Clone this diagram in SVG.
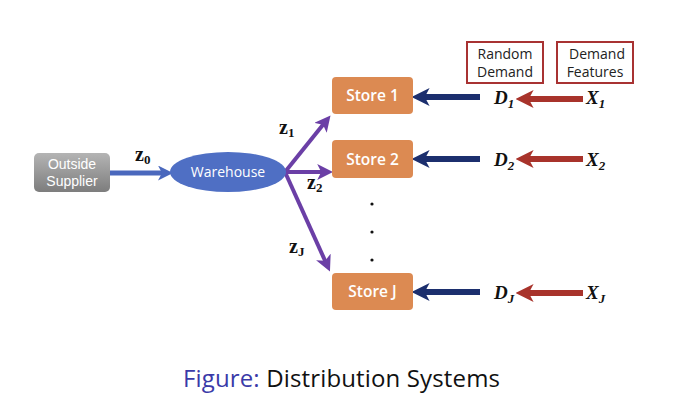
<svg xmlns="http://www.w3.org/2000/svg" width="680" height="405" viewBox="0 0 680 405">
<style>
.lbl{font-family:"Liberation Sans",Arial,sans-serif;font-size:14px;fill:#fff;text-anchor:middle}
.wtxt{font-family:"Open Sans","Liberation Sans",sans-serif;font-size:14px;fill:#fff;text-anchor:middle}
.store{fill:#dc8a52}
.stxt{font-family:"Open Sans","Liberation Sans",sans-serif;font-size:15.5px;font-weight:600;fill:#fff;text-anchor:middle}
.math{font-family:"Liberation Serif",serif;font-weight:bold;font-style:italic;font-size:19px;fill:#111}
.mz{font-family:"Liberation Serif",serif;font-weight:bold;font-size:20px;fill:#111}
.sub{font-size:13px}
.btxt{font-family:"Open Sans","Liberation Sans",sans-serif;font-size:14px;fill:#222;text-anchor:middle}
.box{fill:#fff;stroke:#a83232;stroke-width:2}
.pur{stroke:#6b3fa6;stroke-width:4;fill:none}
.nav{stroke:#1c2f6e;stroke-width:6;fill:none}
.red{stroke:#a8332b;stroke-width:6;fill:none}
</style>
<defs>
<linearGradient id="gs" x1="0" y1="0" x2="0" y2="1">
<stop offset="0" stop-color="#b4b4b4"/><stop offset="1" stop-color="#7d7d7d"/>
</linearGradient>
<marker id="ap" markerWidth="4" markerHeight="4" refX="2.2" refY="2" orient="auto" markerUnits="strokeWidth" viewBox="0 0 4 4"><path d="M0,0 L4,2 L0,4 L1,2 Z" fill="#6b3fa6"/></marker>
<marker id="ab" markerWidth="3" markerHeight="3" refX="1.6" refY="1.5" orient="auto" markerUnits="strokeWidth" viewBox="0 0 3 3"><path d="M0,0 L3,1.5 L0,3 L0.8,1.5 Z" fill="#4a68bd"/></marker>
<marker id="an" markerWidth="3" markerHeight="3" refX="1.6" refY="1.5" orient="auto" markerUnits="strokeWidth" viewBox="0 0 3 3"><path d="M0,0 L3,1.5 L0,3 L0.8,1.5 Z" fill="#1c2f6e"/></marker>
<marker id="ar" markerWidth="3" markerHeight="3" refX="1.6" refY="1.5" orient="auto" markerUnits="strokeWidth" viewBox="0 0 3 3"><path d="M0,0 L3,1.5 L0,3 L0.8,1.5 Z" fill="#a8332b"/></marker>
</defs>
<rect width="680" height="405" fill="#fff"/>

<g id="connectors">
<line x1="110" y1="173" x2="166" y2="173" stroke="#4a68bd" stroke-width="5" marker-end="url(#ab)"/>
<line class="pur" x1="285" y1="172" x2="326" y2="121" marker-end="url(#ap)"/>
<line class="pur" x1="285" y1="172" x2="326" y2="172" marker-end="url(#ap)"/>
<line class="pur" x1="285" y1="172" x2="327" y2="265" marker-end="url(#ap)"/>
<line class="nav" x1="480" y1="97" x2="420" y2="97" marker-end="url(#an)"/>
<line class="nav" x1="480" y1="159" x2="420" y2="159" marker-end="url(#an)"/>
<line class="nav" x1="480" y1="292" x2="420" y2="292" marker-end="url(#an)"/>
<line class="red" x1="583" y1="99" x2="524" y2="99" marker-end="url(#ar)"/>
<line class="red" x1="583" y1="159" x2="524" y2="159" marker-end="url(#ar)"/>
<line class="red" x1="583" y1="293" x2="524" y2="293" marker-end="url(#ar)"/>
</g>

<g id="supplier">
<rect x="34" y="153" width="76" height="39" rx="5" fill="url(#gs)"/>
<text class="lbl" x="72" y="169">Outside</text>
<text class="lbl" x="72" y="186">Supplier</text>
</g>
<text class="mz" x="135" y="161">z<tspan class="sub" dy="3">0</tspan></text>

<g id="warehouse">
<ellipse cx="228" cy="172" rx="58" ry="20" fill="#4f6fc4"/>
<text class="wtxt" x="228" y="177">Warehouse</text>
</g>

<text class="mz" x="279" y="134">z<tspan class="sub" dy="3">1</tspan></text>
<text class="mz" x="307" y="189">z<tspan class="sub" dy="3">2</tspan></text>
<text class="mz" x="289" y="253">z<tspan class="sub" dy="3">J</tspan></text>

<g id="store1">
<rect class="store" x="332" y="77" width="81" height="37" rx="4"/>
<text class="stxt" x="372.5" y="101">Store 1</text>
</g>
<g id="store2">
<rect class="store" x="332" y="140" width="81" height="38" rx="4"/>
<text class="stxt" x="372.5" y="165">Store 2</text>
</g>
<g id="storeJ">
<rect class="store" x="332" y="273" width="81" height="37" rx="4"/>
<text class="stxt" x="372.5" y="297">Store J</text>
</g>
<g id="dots" fill="#111">
<circle cx="372" cy="204" r="1.6"/>
<circle cx="372" cy="232" r="1.6"/>
<circle cx="372" cy="260" r="1.6"/>
</g>

<g id="randomDemand">
<rect class="box" x="467" y="42" width="76" height="41"/>
<text class="btxt" x="505" y="59">Random</text>
<text class="btxt" x="505" y="77">Demand</text>
</g>
<g id="demandFeatures">
<rect class="box" x="557" y="42" width="76" height="41"/>
<text class="btxt" x="597" y="59">Demand</text>
<text class="btxt" x="595" y="77">Features</text>
</g>

<text class="math" x="494" y="104">D<tspan class="sub" dy="4">1</tspan></text>
<text class="math" x="494" y="166">D<tspan class="sub" dy="4">2</tspan></text>
<text class="math" x="494" y="299">D<tspan class="sub" dy="4">J</tspan></text>
<text class="math" x="586" y="104">X<tspan class="sub" dy="4">1</tspan></text>
<text class="math" x="586" y="166">X<tspan class="sub" dy="4">2</tspan></text>
<text class="math" x="586" y="299">X<tspan class="sub" dy="4">J</tspan></text>

<text x="183" y="387" font-family="'Open Sans','Liberation Sans',sans-serif" font-size="24" textLength="317" fill="#111"><tspan fill="#3a3aa8">Figure:</tspan> Distribution Systems</text>
</svg>
